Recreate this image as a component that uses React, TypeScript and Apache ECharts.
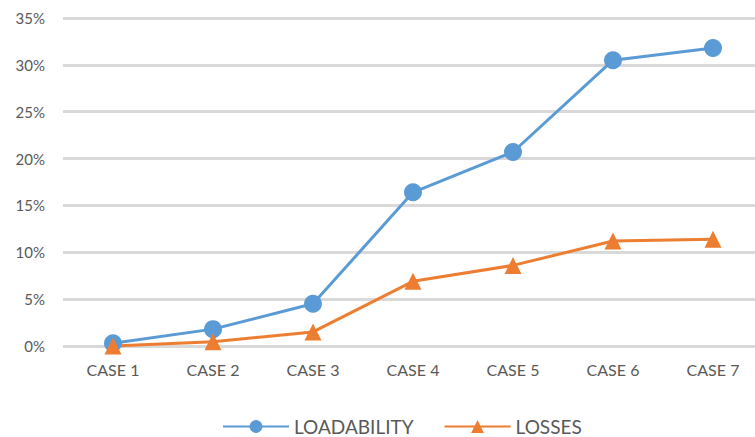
import React, { useEffect, useRef } from "react";
import * as echarts from "echarts";

const categories = ["CASE 1", "CASE 2", "CASE 3", "CASE 4", "CASE 5", "CASE 6", "CASE 7"];
const loadability = [0.3, 1.8, 4.5, 16.4, 20.7, 30.5, 31.8];
const losses = [0.0, 0.45, 1.5, 6.9, 8.6, 11.2, 11.4];
const seriesNames = ["LOADABILITY", "LOSSES"];

const FONT = "Lato, 'Noto Sans', sans-serif";

export default function App() {
  const ref = useRef<HTMLDivElement>(null);
  useEffect(() => {
    if (!ref.current) return;
    const chart = echarts.init(ref.current, undefined, { renderer: "svg" });
    chart.setOption({
      animation: false,
      backgroundColor: "#ffffff",
      textStyle: { fontFamily: FONT },
      grid: { left: 63, width: 700, top: 18, height: 328, containLabel: false, outerBoundsMode: "none" },
      legend: {
        data: seriesNames,
        left: 222,
        top: 417,
        padding: 0,
        itemWidth: 66,
        itemHeight: 16,
        itemGap: 30,
        textStyle: { fontFamily: FONT, fontSize: 19, color: "#595959" },
      },
      xAxis: {
        type: "category",
        data: categories,
        boundaryGap: true,
        axisLine: { show: false },
        axisTick: { show: false },
        axisLabel: { color: "#595959", fontSize: 16, fontFamily: FONT, margin: 15 },
      },
      yAxis: {
        type: "value",
        min: 0,
        max: 35,
        interval: 5,
        axisLine: { show: false },
        axisTick: { show: false },
        splitLine: { lineStyle: { color: "#d9d9d9", width: 3 } },
        axisLabel: { color: "#595959", fontSize: 15, fontFamily: FONT, margin: 18, formatter: "{value}%" },
      },
      series: [
        {
          name: seriesNames[0],
          type: "line",
          data: loadability,
          symbol: "circle",
          symbolSize: 18,
          itemStyle: { color: "#5B9BD5" },
          lineStyle: { color: "#5B9BD5", width: 3 },
        },
        {
          name: seriesNames[1],
          type: "line",
          data: losses,
          symbol: "triangle",
          symbolSize: 17,
          itemStyle: { color: "#ED7D31" },
          lineStyle: { color: "#ED7D31", width: 3 },
        },
      ],
    });
    return () => chart.dispose();
  }, []);
  return (
    <div
      ref={ref}
      style={{ position: "fixed", left: 0, top: 0, width: 755, height: 437, background: "#fff" }}
    />
  );
}
